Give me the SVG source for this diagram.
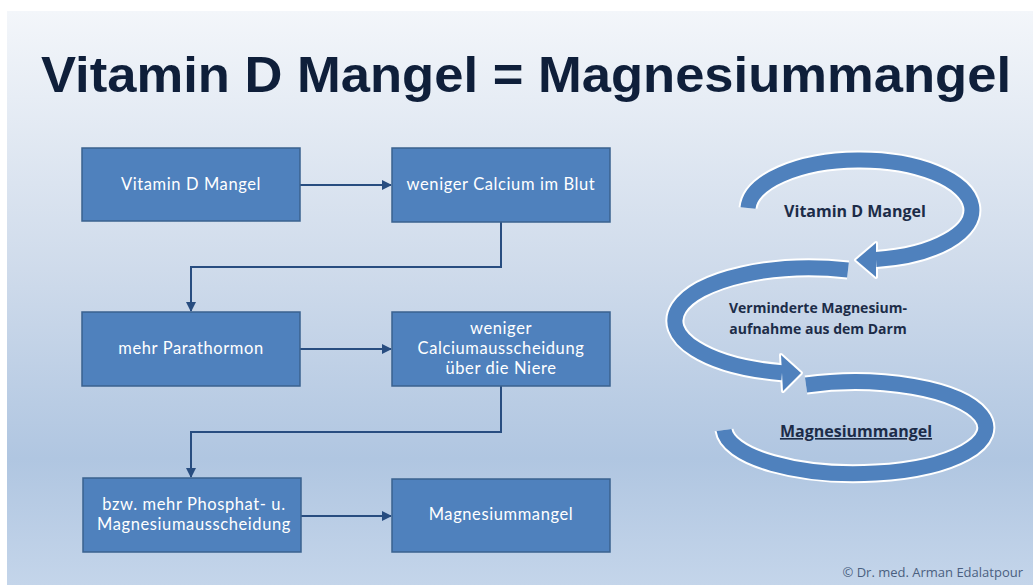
<svg xmlns="http://www.w3.org/2000/svg" width="1033" height="585" viewBox="0 0 1033 585">
<defs>
<linearGradient id="bg" x1="0" y1="0" x2="0" y2="1">
<stop offset="0" stop-color="#f3f6fa"/>
<stop offset="0.45" stop-color="#cfdbeb"/>
<stop offset="0.78" stop-color="#b0c6e1"/>
<stop offset="1" stop-color="#c4d5ea"/>
</linearGradient>
<marker id="ah" markerWidth="10" markerHeight="10" refX="9" refY="5" orient="auto" markerUnits="userSpaceOnUse">
<path d="M0,0 L10,5 L0,10 Z" fill="#284d80"/>
</marker>
<style>
.box{fill:#4f81bd;stroke:#3a628f;stroke-width:1.5}
.bt{font-family:Lato,"Open Sans","Liberation Sans",sans-serif;font-size:16.5px;letter-spacing:0.6px;fill:#ffffff;text-anchor:middle}
.con{fill:none;stroke:#284d80;stroke-width:2}
.bandW{fill:none;stroke:#ffffff;stroke-width:19}
.band{fill:none;stroke:#4f81bd;stroke-width:15}
.headW{fill:#ffffff;stroke:#ffffff;stroke-width:4;stroke-linejoin:round}
.head{fill:#4f81bd}
.rt{font-family:"Open Sans","Liberation Sans",sans-serif;font-weight:bold;fill:#1c2c48;text-anchor:middle}
</style>
</defs>
<rect x="0" y="0" width="1033" height="585" fill="#ffffff"/>
<rect x="7" y="11" width="1026" height="574" fill="url(#bg)"/>
<text x="526" y="92" text-anchor="middle" font-family="Liberation Sans, Arial, sans-serif" font-weight="bold" font-size="50" fill="#0f1f3a" textLength="970" lengthAdjust="spacingAndGlyphs">Vitamin D Mangel = Magnesiummangel</text>

<g id="connectors">
<path class="con" d="M300,185 L391,185" marker-end="url(#ah)"/>
<path class="con" d="M501,222 L501,267 L191,267 L191,311" marker-end="url(#ah)"/>
<path class="con" d="M300,349 L391,349" marker-end="url(#ah)"/>
<path class="con" d="M501,386 L501,432 L191,432 L191,477" marker-end="url(#ah)"/>
<path class="con" d="M301,516 L391,516" marker-end="url(#ah)"/>
</g>

<g id="n1"><rect class="box" x="82" y="148" width="218" height="73"/><text class="bt" x="191" y="190">Vitamin D Mangel</text></g>
<g id="n2"><rect class="box" x="392" y="148" width="218" height="74"/><text class="bt" x="501" y="190">weniger Calcium im Blut</text></g>
<g id="n3"><rect class="box" x="82" y="312" width="218" height="74"/><text class="bt" x="191" y="354">mehr Parathormon</text></g>
<g id="n4"><rect class="box" x="392" y="312" width="218" height="74"/><text class="bt" x="501" y="334">weniger<tspan x="501" dy="20">Calciumausscheidung</tspan><tspan x="501" dy="20">über die Niere</tspan></text></g>
<g id="n5"><rect class="box" x="83" y="478" width="218" height="74"/><text class="bt" x="194" y="510">bzw. mehr Phosphat- u.<tspan x="194" dy="20">Magnesiumausscheidung</tspan></text></g>
<g id="n6"><rect class="box" x="392" y="479" width="218" height="73"/><text class="bt" x="501" y="520">Magnesiummangel</text></g>

<g id="cycle">
<path class="bandW" d="M748,208 A112,50 0 1 1 876,259.5"/>
<path class="bandW" d="M848,270 A135,53 0 1 0 782,372.7"/>
<path class="bandW" d="M806,385 A131,46 0 1 1 724,430"/>
<polygon class="headW" points="876,243 856,260 876,277"/>
<polygon class="headW" points="781,355 801,373 783,391"/>
<path class="band" d="M748,208 A112,50 0 1 1 876,259.5"/>
<path class="band" d="M848,270 A135,53 0 1 0 782,372.7"/>
<path class="band" d="M806,385 A131,46 0 1 1 724,430"/>
<polygon class="head" points="876,243 856,260 876,277"/>
<polygon class="head" points="781,355 801,373 783,391"/>
</g>
<g id="c1"><text class="rt" x="855" y="217" font-size="16">Vitamin D Mangel</text></g>
<g id="c2"><text class="rt" x="818" y="313" font-size="14">Verminderte  Magnesium-</text><text class="rt" x="818" y="334" font-size="14">aufnahme aus dem Darm</text></g>
<g id="c3"><text class="rt" x="856" y="437" font-size="16" text-decoration="underline">Magnesiummangel</text></g>
<text x="1023" y="577" text-anchor="end" font-family="Open Sans, Liberation Sans, sans-serif" font-size="13" fill="#4a5f80">© Dr. med. Arman Edalatpour</text>
</svg>
